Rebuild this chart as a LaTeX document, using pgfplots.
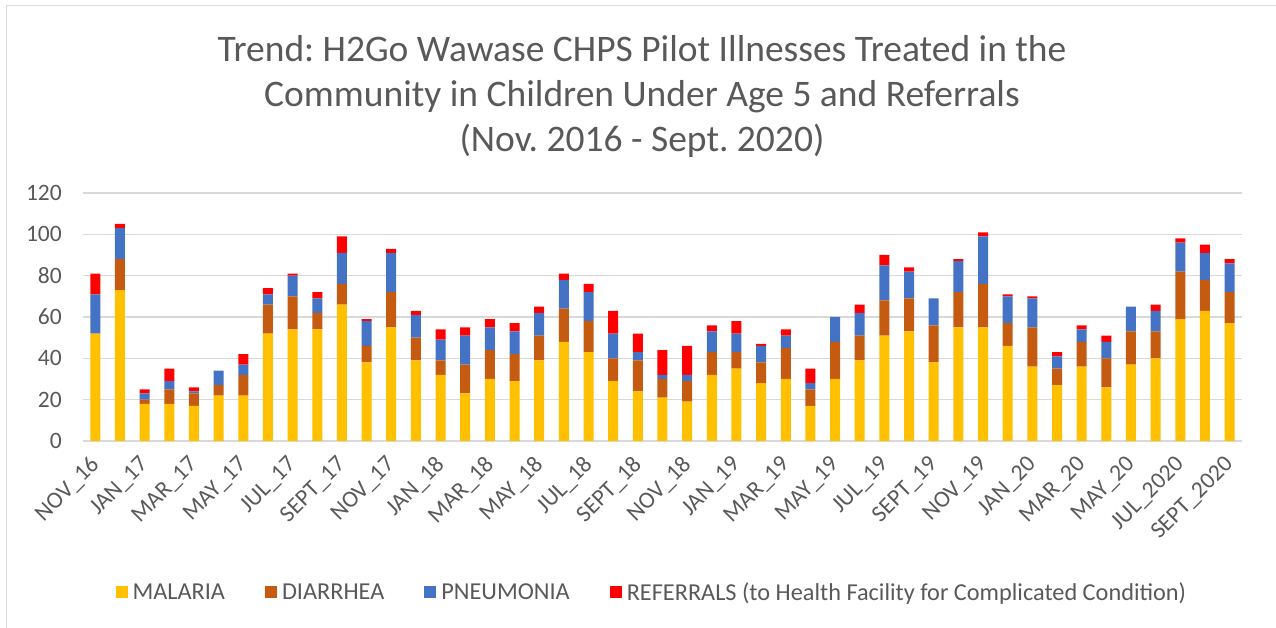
\documentclass[border=0pt]{standalone}
\usepackage{fontspec}
\setmainfont{Carlito}
\usepackage{pgfplots}
\pgfplotsset{compat=1.18}
\definecolor{cMal}{HTML}{FFC000}
\definecolor{cDia}{HTML}{C55A11}
\definecolor{cPne}{HTML}{4472C4}
\definecolor{cRef}{HTML}{FF0000}
\definecolor{cTxt}{HTML}{595959}
\definecolor{cGrid}{HTML}{D9D9D9}

% month index, malaria, diarrhea, pneumonia, referrals
\pgfplotstableread{
x mal dia pne ref
0 52 0 19 10
1 73 15 15 2
2 18 2 3 2
3 18 7 4 6
4 17 6 1 2
5 22 5 7 0
6 22 10 5 5
7 52 14 5 3
8 54 16 10 1
9 54 8 7 3
10 66 10 15 8
11 38 8 12 1
12 55 17 19 2
13 39 11 11 2
14 32 7 10 5
15 23 14 14 4
16 30 14 11 4
17 29 13 11 4
18 39 12 11 3
19 48 16 14 3
20 43 15 14 4
21 29 11 12 11
22 24 15 4 9
23 21 9 2 12
24 19 10 3 14
25 32 11 10 3
26 35 8 9 6
27 28 10 8 1
28 30 15 6 3
29 17 8 3 7
30 30 18 12 0
31 39 12 11 4
32 51 17 17 5
33 53 16 13 2
34 38 18 13 0
35 55 17 15 1
36 55 21 23 2
37 46 11 13 1
38 36 19 14 1
39 27 8 6 2
40 36 12 6 2
41 26 14 8 3
42 37 16 12 0
43 40 13 10 3
44 59 23 14 2
45 63 15 13 4
46 57 15 14 2
}\datatable

\begin{document}
\frenchspacing
\begin{tikzpicture}
\useasboundingbox (0,0) rectangle (1276pt,628pt);
\draw[cGrid, line width=1.2pt] (6.5pt,0) -- (6.5pt,622.5pt) -- (1276pt,622.5pt);

\begin{scope}[every node/.style={text=cTxt, font=\fontsize{37.5}{44}\selectfont, anchor=base, inner sep=0pt}]
\node at (642pt,566pt) {Trend: H2Go Wawase CHPS Pilot Illnesses Treated in the};
\node at (642pt,521pt) {Community in Children Under Age 5 and Referrals};
\node at (642pt,476pt) {(Nov. 2016 - Sept. 2020)};
\end{scope}

\begin{axis}[
  at={(83pt,187pt)}, anchor=south west,
  scale only axis, width=1159pt, height=248pt,
  ybar stacked, bar width=10pt,
  xmin=-0.5, xmax=46.5, ymin=0, ymax=120,
  ytick={0,20,...,120},
  xtick={0,2,...,46},
  xticklabels={NOV\_16,JAN\_17,MAR\_17,MAY\_17,JUL\_17,SEPT\_17,NOV\_17,JAN\_18,MAR\_18,MAY\_18,JUL\_18,SEPT\_18,NOV\_18,JAN\_19,MAR\_19,MAY\_19,JUL\_19,SEPT\_19,NOV\_19,JAN\_20,MAR\_20,MAY\_20,JUL\_2020,SEPT\_2020},
  axis line style={draw=none},
  major tick length=0pt,
  ymajorgrids, grid style={cGrid, line width=1.2pt},
  tick label style={text=cTxt, font=\fontsize{23.5}{28}\selectfont},
  /pgf/number format/assume math mode=true,
  yticklabel style={anchor=east, inner sep=0pt, xshift=-21pt},
  xticklabel style={anchor=north east, inner sep=0pt, xshift=-6.5pt, yshift=-13.5pt, rotate=45},
  legend style={at={(axis description cs:0.490,-0.609)}, anchor=center,
    draw=none, fill=none, legend columns=-1,
    font=\fontsize{24.3}{29}\selectfont, text=cTxt,
    nodes={inner sep=0pt},
    /tikz/every odd column/.append style={column sep=5pt},
    /tikz/every even column/.append style={column sep=40pt}},
  legend image code/.code={\fill[#1] (0pt,-6pt) rectangle (12pt,6pt);},
]
\addplot[fill=cMal, draw=none] table[x=x, y=mal] {\datatable};
\addplot[fill=cDia, draw=none] table[x=x, y=dia] {\datatable};
\addplot[fill=cPne, draw=none] table[x=x, y=pne] {\datatable};
\addplot[fill=cRef, draw=none] table[x=x, y=ref] {\datatable};
\legend{MALARIA, DIARRHEA, PNEUMONIA, REFERRALS (to Health Facility for Complicated Condition)}
\end{axis}
\end{tikzpicture}
\end{document}
